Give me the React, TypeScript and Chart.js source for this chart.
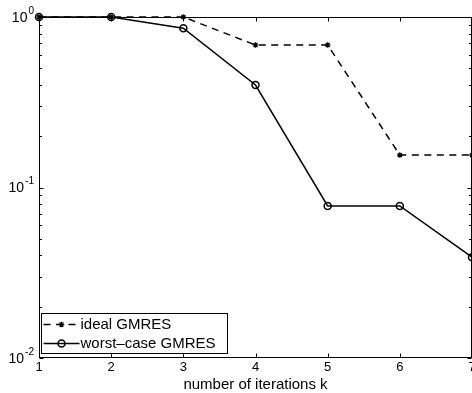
import React, { useEffect, useRef } from "react";
import { Chart, registerables } from "chart.js";

Chart.register(...registerables);

const iterations = [1, 2, 3, 4, 5, 6, 7];
const idealGMRES = [1, 1, 1, 0.685, 0.685, 0.155, 0.155];
const worstCaseGMRES = [1, 1, 0.859, 0.399, 0.078, 0.078, 0.039];
const seriesLabels = ["ideal GMRES", "worst\u2013case GMRES"];
const xTicks = [1, 2, 3, 4, 5, 6, 7];
const yDecades = [1, 0.1, 0.01];
const yExponents = ["0", "-1", "-2"];
const xTitle = "number of iterations k";

const FONT = "'Liberation Sans', Arial, Helvetica, sans-serif";
const CANVAS_W = 520;
const CANVAS_H = 393;
const VISIBLE_W = 472;

const framePlugin = {
  id: "matlabFrame",
  beforeDatasetsDraw(chart: any) {
    const { ctx, chartArea: a, scales } = chart;
    const xs = scales.x;
    const ys = scales.y;
    const L = Math.round(a.left) + 0.5;
    const R = Math.round(a.right) - 0.5;
    const T = Math.round(a.top) + 0.5;
    const B = Math.round(a.bottom) - 0.5;
    ctx.save();
    ctx.strokeStyle = "#000";
    ctx.lineWidth = 1;
    ctx.strokeRect(L, T, R - L, B - T);
    ctx.beginPath();
    xTicks.forEach((t) => {
      const px = Math.round(xs.getPixelForValue(t)) + 0.5;
      ctx.moveTo(px, B);
      ctx.lineTo(px, B - 4);
      ctx.moveTo(px, T);
      ctx.lineTo(px, T + 4);
    });
    yDecades.forEach((d) => {
      const py = Math.round(ys.getPixelForValue(d)) + 0.5;
      ctx.moveTo(L, py);
      ctx.lineTo(L + 4, py);
      ctx.moveTo(R, py);
      ctx.lineTo(R - 4, py);
      if (d < 1) {
        for (let m = 2; m <= 9; m++) {
          const v = m * d;
          const pm = Math.round(ys.getPixelForValue(v)) + 0.5;
          ctx.moveTo(L, pm);
          ctx.lineTo(L + 2.5, pm);
          ctx.moveTo(R, pm);
          ctx.lineTo(R - 2.5, pm);
        }
      }
    });
    ctx.stroke();

    ctx.fillStyle = "#000";
    ctx.textBaseline = "middle";
    ctx.textAlign = "left";
    yDecades.forEach((d, i) => {
      const py = ys.getPixelForValue(d);
      ctx.font = `14px ${FONT}`;
      const wb = ctx.measureText("10").width;
      ctx.font = `10px ${FONT}`;
      const we = ctx.measureText(yExponents[i]).width;
      const right = 34;
      const xb = right - we - 1 - wb;
      ctx.font = `14px ${FONT}`;
      ctx.fillText("10", xb, py + 1);
      ctx.font = `10px ${FONT}`;
      ctx.fillText(yExponents[i], xb + wb + 1, py - 6);
    });
    ctx.restore();
  },
  afterDraw(chart: any) {
    const { ctx, chartArea: a } = chart;
    const left = Math.round(a.left) + 2.5;
    const bottom = Math.round(a.bottom) - 4.5;
    const w = 186;
    const h = 40;
    const top = bottom - h;
    ctx.save();
    ctx.fillStyle = "#fff";
    ctx.fillRect(left, top, w, h);
    ctx.strokeStyle = "#000";
    ctx.lineWidth = 1;
    ctx.strokeRect(left, top, w, h);
    const rows = [top + 11, top + 30];
    chart.data.datasets.forEach((ds: any, i: number) => {
      const y = rows[i];
      const x0 = left + 2;
      const x1 = left + 38;
      ctx.save();
      ctx.strokeStyle = ds.borderColor;
      ctx.lineWidth = ds.borderWidth;
      ctx.setLineDash(ds.borderDash || []);
      ctx.beginPath();
      ctx.moveTo(x0, y);
      ctx.lineTo(x1, y);
      ctx.stroke();
      ctx.restore();
      const mx = (x0 + x1) / 2;
      ctx.save();
      ctx.strokeStyle = ds.pointBorderColor;
      ctx.fillStyle = ds.pointBackgroundColor;
      ctx.lineWidth = ds.pointBorderWidth;
      if (ds.pointStyle === "circle") {
        ctx.beginPath();
        ctx.arc(mx, y, ds.pointRadius, 0, Math.PI * 2);
        ctx.fill();
        ctx.stroke();
      } else {
        const r = ds.pointRadius;
        ctx.beginPath();
        ctx.moveTo(mx - r, y);
        ctx.lineTo(mx + r, y);
        ctx.moveTo(mx, y - r);
        ctx.lineTo(mx, y + r);
        const q = r * Math.SQRT1_2;
        ctx.moveTo(mx - q, y - q);
        ctx.lineTo(mx + q, y + q);
        ctx.moveTo(mx - q, y + q);
        ctx.lineTo(mx + q, y - q);
        ctx.stroke();
      }
      ctx.restore();
      ctx.fillStyle = "#000";
      ctx.font = `15px ${FONT}`;
      ctx.textBaseline = "middle";
      ctx.textAlign = "left";
      ctx.fillText(ds.label, x1 + 1, y + 0.5);
    });
    ctx.restore();
  },
};

export default function App() {
  const canvasRef = useRef<HTMLCanvasElement | null>(null);

  useEffect(() => {
    const canvas = canvasRef.current;
    if (!canvas) return;
    const chart = new Chart(canvas, {
      type: "line",
      data: {
        datasets: [
          {
            label: seriesLabels[0],
            data: iterations.map((k, i) => ({ x: k, y: idealGMRES[i] })),
            borderColor: "#000",
            borderWidth: 1.5,
            borderDash: [7, 5.5],
            pointStyle: "star",
            pointRadius: 2.8,
            pointBorderWidth: 1.2,
            pointBackgroundColor: "#000",
            pointBorderColor: "#000",
            clip: false,
            tension: 0,
          } as any,
          {
            label: seriesLabels[1],
            data: iterations.map((k, i) => ({ x: k, y: worstCaseGMRES[i] })),
            borderColor: "#000",
            borderWidth: 1.5,
            pointStyle: "circle",
            pointRadius: 3.5,
            pointBorderWidth: 1.5,
            pointBackgroundColor: "rgba(0,0,0,0)",
            pointBorderColor: "#000",
            clip: false,
            tension: 0,
          } as any,
        ],
      },
      options: {
        responsive: false,
        animation: false,
        devicePixelRatio: 1,
        events: [],
        layout: { padding: { top: 17, left: 0, right: CANVAS_W - VISIBLE_W, bottom: 0 } },
        plugins: { legend: { display: false }, tooltip: { enabled: false } },
        scales: {
          x: {
            type: "linear",
            min: 1,
            max: 7,
            grid: { display: false, drawTicks: false },
            border: { display: false },
            ticks: {
              stepSize: 1,
              color: "#000",
              font: { family: FONT, size: 13 },
              padding: 2,
              maxRotation: 0,
              autoSkip: false,
            },
            title: {
              display: true,
              text: xTitle,
              color: "#000",
              font: { family: FONT, size: 15, lineHeight: 1.1 },
              padding: 0,
            },
            afterFit: (s: any) => {
              s.height = 35;
            },
          },
          y: {
            type: "logarithmic",
            min: 0.01,
            max: 1,
            grid: { display: false, drawTicks: false },
            border: { display: false },
            ticks: { display: false },
            afterFit: (s: any) => {
              s.width = 39;
            },
          },
        },
      } as any,
      plugins: [framePlugin],
    });
    return () => chart.destroy();
  }, []);

  return (
    <div
      style={{
        position: "fixed",
        top: 0,
        left: 0,
        width: VISIBLE_W,
        height: CANVAS_H,
        overflow: "hidden",
        background: "#fff",
      }}
    >
      <canvas ref={canvasRef} width={CANVAS_W} height={CANVAS_H} style={{ display: "block" }} />
    </div>
  );
}
